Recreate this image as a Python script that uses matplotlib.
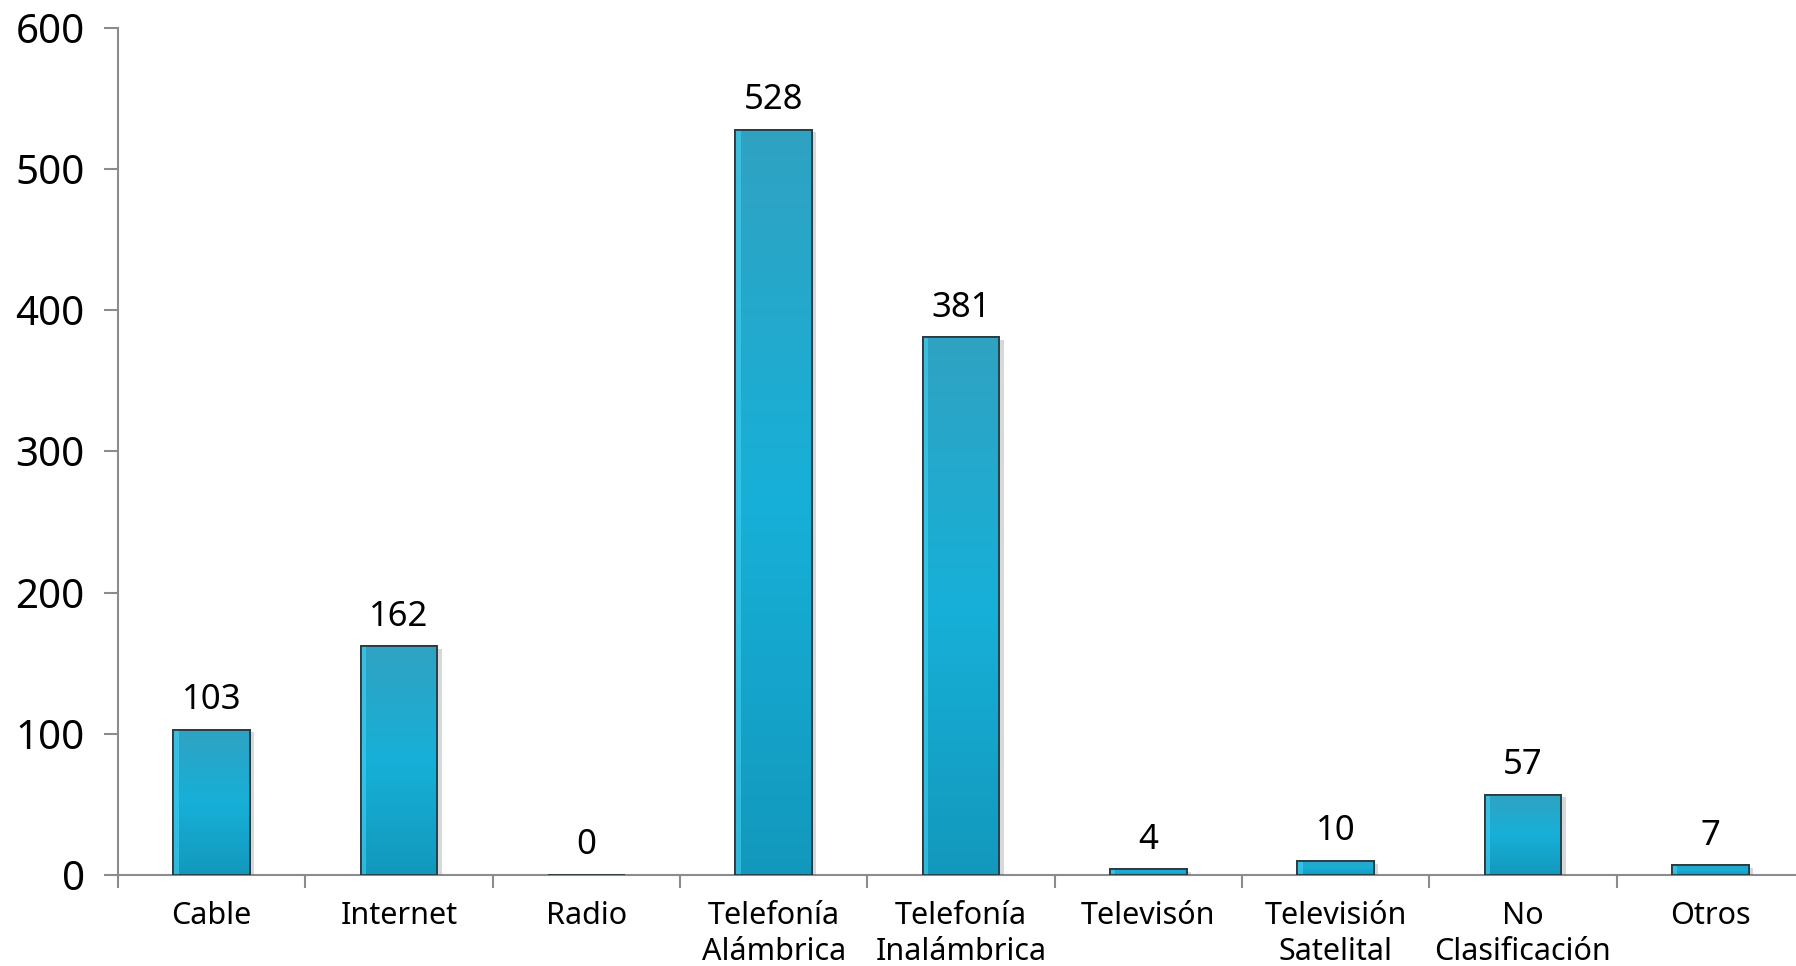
import numpy as np
import matplotlib
matplotlib.use("Agg")
import matplotlib.pyplot as plt
from matplotlib import patheffects as pe
from matplotlib.colors import LinearSegmentedColormap

categories = ["Cable", "Internet", "Radio", "Telefonía\nAlámbrica", "Telefonía\nInalámbrica",
              "Televisón", "Televisión\nSatelital", "No\nClasificación", "Otros"]
values = [103, 162, 0, 528, 381, 4, 10, 57, 7]
yticks = [0, 100, 200, 300, 400, 500, 600]

plt.rcParams['font.family'] = ['Noto Sans', 'DejaVu Sans']

fig = plt.figure(figsize=(17.96, 9.66), dpi=100)
ax = fig.add_axes([118/1796, 1-875/966, (1804-118)/1796, (875-28)/966])

x = np.arange(len(categories))
bars = ax.bar(x, values, width=0.41, color='#1aa6cc', edgecolor='#2b3a40', linewidth=1.3, zorder=2,
              path_effects=[pe.SimplePatchShadow(offset=(3, -2), shadow_rgbFace='#666666', alpha=0.25), pe.Normal()])

cmap = LinearSegmentedColormap.from_list('g', ['#30a2c2', '#17b0d8', '#1398bd'])
grad = np.linspace(0, 1, 256).reshape(-1, 1)
for b, v in zip(bars, values):
    if v <= 0:
        continue
    x0, w = b.get_x(), b.get_width()
    im = ax.imshow(grad, cmap=cmap, aspect='auto', extent=(x0, x0 + w, 0, v), origin='upper', zorder=2.1)
    im.set_clip_path(b)
    ax.fill_between([x0, x0 + w * 0.07], 0, v, color='#45d4f5', alpha=0.55, lw=0, zorder=2.2)
    ax.bar(b.get_x() + w / 2, v, width=w, facecolor='none', edgecolor='#2b3a40', linewidth=1.3, zorder=2.3)

for xi, v in zip(x, values):
    ax.annotate(str(v), (xi, v), xytext=(0, 9), textcoords='offset points', ha='center', va='bottom',
                fontsize=25, color='black')

ax.set_xlim(-0.5, 8.5)
ax.set_ylim(0, 600)
ax.set_yticks(yticks)
ax.tick_params(axis='y', labelsize=29, length=10, width=1.5, color='#8c8c8c', pad=14)
ax.set_xticks(x)
ax.set_xticklabels(categories, fontsize=22, linespacing=1.25)
ax.tick_params(axis='x', length=0, pad=19)
ax.set_xticks(np.arange(-0.5, 9.0, 1.0), minor=True)
ax.tick_params(axis='x', which='minor', length=9, width=1.5, color='#8c8c8c', direction='out')

for s in ['top', 'right']:
    ax.spines[s].set_visible(False)
for s in ['left', 'bottom']:
    ax.spines[s].set_color('#8c8c8c')
    ax.spines[s].set_linewidth(1.5)
    ax.spines[s].set_zorder(1)

fig.savefig('out.png', dpi=100)
